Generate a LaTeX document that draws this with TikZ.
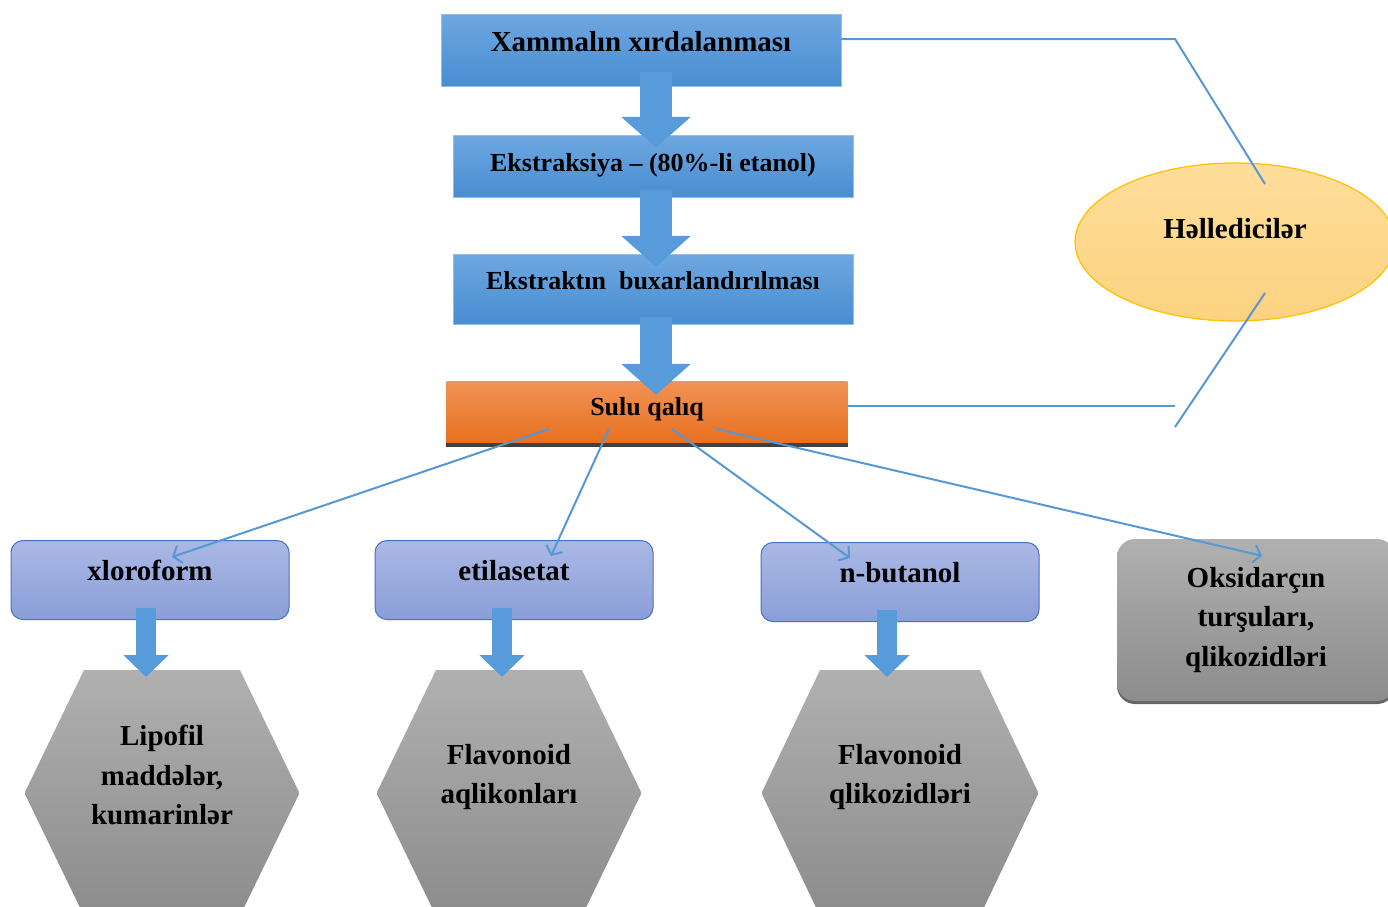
\documentclass[tikz,border=0pt]{standalone}
\usepackage{fontspec}
\setmainfont{Liberation Serif}
\usepackage{tikz}
\usetikzlibrary{arrows.meta,positioning,calc,shapes.geometric,shadows}
\usepackage{xcolor}
\definecolor{boxtop}{RGB}{110,167,224}
\definecolor{boxbot}{RGB}{72,141,210}
\definecolor{boxedge}{RGB}{150,190,232}
\definecolor{arrowblue}{RGB}{88,155,218}
\definecolor{linkblue}{RGB}{86,152,212}
\definecolor{orangetop}{RGB}{241,146,86}
\definecolor{orangebot}{RGB}{232,112,32}
\definecolor{solvtop}{RGB}{170,184,228}
\definecolor{solvbot}{RGB}{138,158,216}
\definecolor{solvedge}{RGB}{68,114,196}
\definecolor{graytop}{RGB}{176,176,176}
\definecolor{graybot}{RGB}{140,140,140}
\definecolor{elltop}{RGB}{254,222,155}
\definecolor{ellbot}{RGB}{252,210,128}
\definecolor{elledge}{RGB}{255,192,0}

\tikzset{
  stepbox/.style={rectangle, draw=boxedge, top color=boxtop, bottom color=boxbot,
    minimum width=400pt, font=\bfseries\fontsize{26}{30}\selectfont},
  solvbox/.style={rectangle, rounded corners=12pt, draw=solvedge, line width=1pt,
    top color=solvtop, bottom color=solvbot, minimum width=278pt, minimum height=79pt, text depth=19pt},
  fatarrow/.style={arrowblue, line width=32pt, -{Triangle[length=31pt,width=68pt]}},
  slimarrow/.style={arrowblue, line width=20pt, -{Triangle[length=22pt,width=44pt]}},
  link/.style={linkblue, line width=2pt},
  linkarrow/.style={link, -{Straight Barb[length=7pt,width=18pt]}},
  hexfill/.style={top color=graytop, bottom color=graybot,
    drop shadow={shadow xshift=0pt, shadow yshift=-2pt, fill=black!70, opacity=0.6}},
}

\begin{document}
\begin{tikzpicture}[x=1pt, y=-1pt, font=\bfseries\fontsize{29}{39.5}\selectfont]
    \useasboundingbox (0,0) rectangle (1388,906);

    % Main steps
    \node[stepbox, minimum height=72pt, text depth=17pt, font=\bfseries\fontsize{29}{34}\selectfont] (xam) at (641,50) {Xammalın xırdalanması};
    \node[stepbox, minimum height=62pt, text depth=8pt] (ekst) at (653,166) {Ekstraksiya – (80\%-li etanol)};
    \node[stepbox, minimum height=70pt, text depth=17pt] (buxar) at (653,289) {Ekstraktın\ \ buxarlandırılması};
    \node[rectangle, top color=orangetop, bottom color=orangebot, minimum width=401pt, minimum height=62pt,
      text depth=11pt, font=\bfseries\fontsize{26}{30}\selectfont] (sulu) at (647,412) {Sulu qalıq};
    \draw[darkgray, line width=4pt] ([yshift=-2pt]sulu.south west) -- ([yshift=-2pt]sulu.south east);

    \draw[fatarrow] ([xshift=3pt,yshift=14pt]xam.south -| ekst.north) -- ([xshift=3pt,yshift=-13pt]ekst.north);
    \draw[fatarrow] ([xshift=3pt,yshift=7pt]ekst.south) -- ([xshift=3pt,yshift=-13pt]buxar.north);
    \draw[fatarrow] ([xshift=3pt,yshift=7pt]buxar.south) -- ([xshift=3pt,yshift=-14pt]sulu.north -| buxar.south);

    % Solvents
    \node[ellipse, draw=elledge, line width=1.2pt, top color=elltop, bottom color=ellbot,
      minimum width=320pt, minimum height=158pt, text depth=27pt] (solv) at (1235,242) {Həlledicilər};
    \coordinate (k1) at (1175,39);
    \coordinate (k2) at (1175,406);
    \coordinate (k3) at (1175,427);
    \draw[link] ([yshift=11pt]xam.east) -- (k1) -- ($(solv.center)+(30,-58)$);
    \draw[link] ([yshift=6pt]sulu.east) -- (k2);
    \draw[link] (k3) -- ($(solv.center)+(30,51)$);

    % Fractions
    \node[solvbox] (xlor) at (150,580) {xloroform};
    \node[solvbox] (etil) at (514,580) {etilasetat};
    \node[solvbox] (nbut) at (900,582) {n-butanol};
    \node[rectangle, rounded corners=18pt, top color=graytop, bottom color=graybot, minimum width=278pt,
      minimum height=162pt, align=center,
      drop shadow={shadow xshift=0pt, shadow yshift=-3pt, fill=black!75, opacity=0.8}] (oks) at (1256,620)
      {Oksidarçın\\turşuları,\\qlikozidləri};

    \draw[linkarrow] ([xshift=-98pt,yshift=-17pt]sulu.center) -- ([xshift=22pt,yshift=-17pt]xlor.north);
    \draw[linkarrow] ([xshift=-38pt,yshift=-17pt]sulu.center) -- ([xshift=37pt,yshift=-16pt]etil.north);
    \draw[linkarrow] ([xshift=25pt,yshift=-17pt]sulu.center) -- ([xshift=-50pt,yshift=-16pt]nbut.north);
    \draw[linkarrow] ([xshift=69pt,yshift=-17pt]sulu.center) -- ([xshift=6pt,yshift=-17pt]oks.north);

    % Hexagons
    \coordinate (h1) at (162,792);
    \coordinate (h2) at (509,792);
    \coordinate (h3) at (900,792);
    \foreach \h/\w/\t in {h1/137/78, h2/132/73, h3/138/80}
      \shade[hexfill] ($(\h)+(-\t,-122)$) -- ($(\h)+(\t,-122)$) -- ($(\h)+(\w,0)$)
        -- ($(\h)+(\t,122)$) -- ($(\h)+(-\t,122)$) -- ($(\h)+(-\w,0)$) -- cycle;
    \node[align=center] (lipo) at (162,775) {Lipofil\\maddələr,\\kumarinlər};
    \node[align=center] (aglik) at (509,777) {Flavonoid\\aqlikonları};
    \node[align=center] (glik) at (900,777) {Flavonoid\\qlikozidləri};

    \foreach \b/\h/\s in {xlor/h1/-4, etil/h2/-12, nbut/h3/-13}
      \draw[slimarrow] ([xshift=\s pt,yshift=12pt]\b.south) -- ($([xshift=\s pt]\b.south |- \h)+(0,-115)$);
\end{tikzpicture}
\end{document}
